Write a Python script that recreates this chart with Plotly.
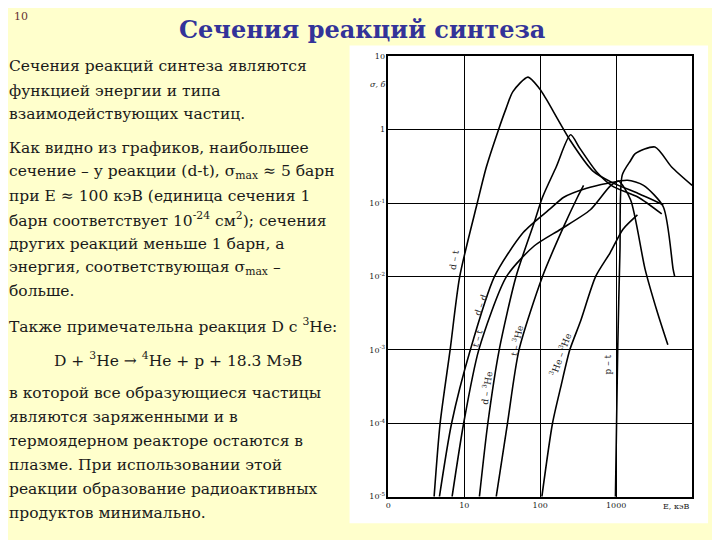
import plotly.graph_objects as go

# energies (keV) and cross sections (barn)
dt_e = [4.0, 4.8, 6.5, 8.7, 14.8, 19.5, 28.2, 35.5, 43.6, 69, 98, 120, 251, 490, 891, 1950, 4170]
dt_s = [1e-5, 1e-4, 1e-3, 1e-2, 0.1, 0.31, 1.0, 1.95, 3.3, 5.2, 3.6, 2.6, 0.70, 0.275, 0.19, 0.135, 0.095]

dd_e = [4.7, 6.8, 12, 25, 60, 138, 204, 398, 776, 1410, 2290, 4170, 5620, 5890]
dd_s = [1e-5, 1e-4, 1e-3, 1e-2, 0.040, 0.085, 0.12, 0.158, 0.186, 0.204, 0.174, 0.089, 0.0126, 0.010]

tt_e = [6.9, 9.8, 15.5, 36, 83, 186, 457, 832, 1070, 1550, 2400, 3470, 4790]
tt_s = [1e-5, 1e-4, 1e-3, 1e-2, 0.026, 0.044, 0.081, 0.17, 0.20, 0.11, 0.0126, 0.0033, 0.00117]

dhe_e = [15.8, 20.4, 28.8, 48, 83, 107, 162, 251, 331, 562, 891, 1950, 3980]
dhe_s = [1e-5, 1e-4, 1e-3, 1e-2, 0.054, 0.12, 0.31, 0.85, 0.56, 0.26, 0.17, 0.12, 0.071]

the_e = [26.3, 37, 52.5, 107, 204, 309, 372]
the_s = [1e-5, 1e-4, 1e-3, 1e-2, 0.048, 0.12, 0.174]

hehe_e = [105, 145, 186, 245, 339, 537, 832, 1230, 1905]
hehe_s = [1e-5, 1e-4, 3.1e-4, 1e-3, 2.45e-3, 0.01, 0.021, 0.044, 0.069]

pt_e = [977, 1047, 1122, 1200, 1550, 1780, 3240, 5370, 10000]
pt_s = [1e-5, 1e-3, 0.023, 0.24, 0.38, 0.47, 0.58, 0.31, 0.174]

y_ticks = [1e-5, 1e-4, 1e-3, 1e-2, 1e-1, 1, 10]
y_labels = ["10<sup>-5</sup>", "10<sup>-4</sup>", "10<sup>-3</sup>", "10<sup>-2</sup>",
            "10<sup>-1</sup>", "1", "10"]
x_ticks = [1, 10, 100, 1000]
x_labels = ["0", "10", "100", "1000"]

curve_labels = ["d – t", "d – d", "t – t", "d – <sup>3</sup>He", "t – <sup>3</sup>He",
                "<sup>3</sup>He – <sup>3</sup>He", "p – t"]

body_lines = [
    "Сечения реакций синтеза являются",
    "функцией энергии и типа",
    "взаимодействующих частиц.",
    "Как видно из графиков, наибольшее",
    "сечение – у реакции (d-t), σ<sub>max</sub> ≈ 5 барн",
    "при E ≈ 100 кэВ (единица сечения 1",
    "барн соответствует 10<sup>-24</sup> см<sup>2</sup>); сечения",
    "других реакций меньше 1 барн, а",
    "энергия, соответствующая σ<sub>max</sub> –",
    "больше.",
    "Также примечательна реакция D с <sup>3</sup>He:",
    "в которой все образующиеся частицы",
    "являются заряженными и в",
    "термоядерном реакторе остаются в",
    "плазме. При использовании этой",
    "реакции образование радиоактивных",
    "продуктов минимально.",
]
body_y = [63, 88, 112, 146, 171, 195, 219, 244, 268, 292, 327, 396, 420, 444, 469, 493, 518]
equation = "D + <sup>3</sup>He → <sup>4</sup>He + p + 18.3 МэВ"

# the page puts the figure 8 px in from the window corner
OFF = 8
W, H = 720 - OFF, 540 - OFF
SERIF = "DejaVu Serif"


def px(x):
    return (x - OFF) / W


def py(y):
    return 1 - (y - OFF) / H


fig = go.Figure()
for e, s in [(dt_e, dt_s), (dd_e, dd_s), (tt_e, tt_s), (dhe_e, dhe_s),
             (the_e, the_s), (hehe_e, hehe_s), (pt_e, pt_s)]:
    fig.add_trace(go.Scatter(x=e, y=s, mode="lines",
                             line=dict(color="black", width=1.6, shape="spline", smoothing=0.7),
                             showlegend=False, hoverinfo="skip"))

# white scanned-image panel behind the graph
fig.add_shape(type="rect", xref="paper", yref="paper",
              x0=px(348), x1=px(708), y0=py(528), y1=py(42),
              fillcolor="white", line=dict(width=0), layer="below")

ann = []
ann.append(dict(x=px(360), y=py(26), text="<b>Сечения реакций синтеза</b>",
                font=dict(family=SERIF, size=24, color="#333399")))
ann.append(dict(x=px(9), y=py(13), text="10", xanchor="left",
                font=dict(family=SERIF, size=11, color="#663333")))
for t, yy in zip(body_lines, body_y):
    ann.append(dict(x=px(4), y=py(yy), text=t, xanchor="left",
                    font=dict(family=SERIF, size=15.5, color="#1a1a1a")))
ann.append(dict(x=px(176), y=py(361), text=equation,
                font=dict(family=SERIF, size=15.5, color="#1a1a1a")))

# curve labels, rotated along the lines
lab_pos = [(453, 260, -80), (480, 306, -70), (477, 340, -75), (485, 390, -82),
           (516, 342, -78), (560, 356, -70), (607, 366, -90)]
for t, (lx, ly, ang) in zip(curve_labels, lab_pos):
    ann.append(dict(x=px(lx), y=py(ly), text=t, textangle=ang,
                    font=dict(family=SERIF, size=9, color="#222")))
ann.append(dict(x=px(377), y=py(82), text="<i>σ, б</i>",
                font=dict(family=SERIF, size=8, color="#222")))
ann.append(dict(x=px(676), y=py(511), text="E, кэВ",
                font=dict(family=SERIF, size=8, color="#222")))
for a in ann:
    a.update(xref="paper", yref="paper", showarrow=False)
    a.setdefault("xanchor", "center")
    a.setdefault("yanchor", "middle")

fig.update_layout(
    width=W, height=H,
    margin=dict(l=0, r=0, t=0, b=0),
    font=dict(family=SERIF),
    paper_bgcolor="#ffffcc",
    plot_bgcolor="white",
    annotations=ann,
    xaxis=dict(type="log", range=[0, 4], domain=[px(387), px(692)],
               tickvals=x_ticks, ticktext=x_labels, ticks="",
               showgrid=True, gridcolor="black", gridwidth=1.2,
               showline=True, mirror=True, linecolor="black", linewidth=1.6,
               zeroline=False, tickfont=dict(family=SERIF, size=8, color="#222")),
    yaxis=dict(type="log", range=[-5, 1], domain=[py(501), py(53)],
               tickvals=y_ticks, ticktext=y_labels, ticks="",
               showgrid=True, gridcolor="black", gridwidth=1.2,
               showline=True, mirror=True, linecolor="black", linewidth=1.6,
               zeroline=False, tickfont=dict(family=SERIF, size=8, color="#222")),
)

fig.write_html("out.html")
